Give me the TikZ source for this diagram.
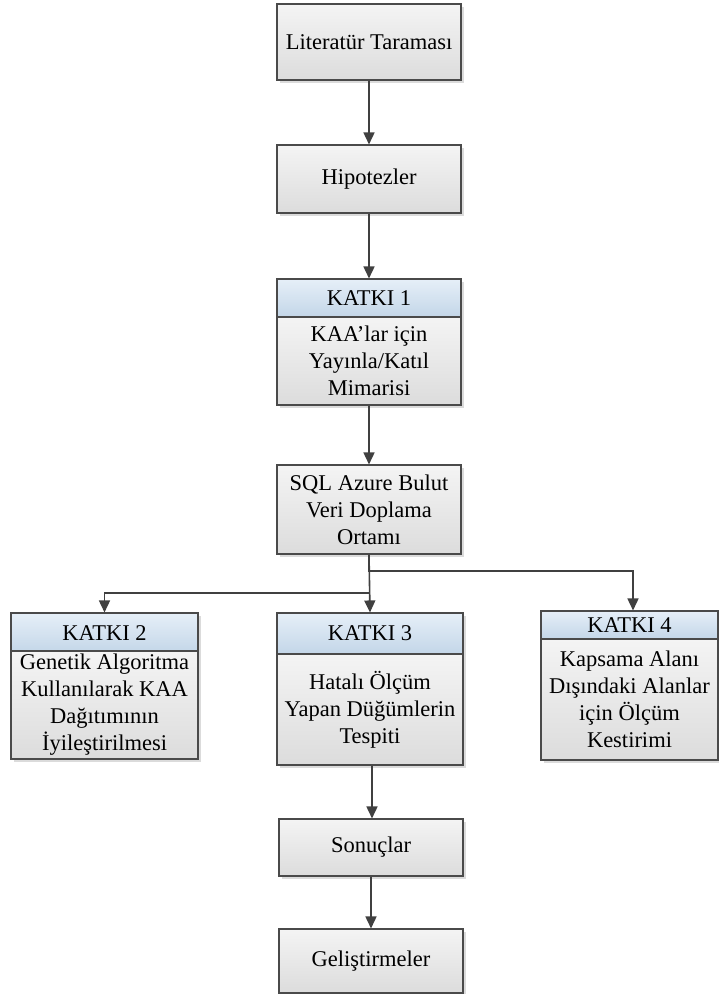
\documentclass[tikz,border=0pt]{standalone}
\usepackage{fontspec}
\setmainfont{Liberation Serif}
\usetikzlibrary{arrows.meta,shadows}
\definecolor{edge}{HTML}{4A4A4A}
\definecolor{wire}{HTML}{404040}
\definecolor{gtop}{HTML}{F4F4F4}
\definecolor{gbot}{HTML}{DCDCDC}
\definecolor{btop}{HTML}{E6EFF8}
\definecolor{bbot}{HTML}{C3D6E8}
\tikzset{
  shade/.style={drop shadow={shadow xshift=3pt,shadow yshift=-3pt,fill=black!14,opacity=1}},
  grey box/.style={shade,draw=edge,line width=1.1pt,top color=gtop,bottom color=gbot,
    inner sep=0pt,align=center,font=\fontsize{22.5}{27}\selectfont},
  head box/.style={shade,draw=edge,line width=1.1pt,top color=btop,bottom color=bbot,
    inner sep=0pt,align=center,font=\fontsize{22.5}{27}\selectfont},
  arr/.style={draw=wire,line width=1.6pt,-{Triangle[width=11pt,length=12pt]}},
}
% a centred block of lines, lowered by #1
\newcommand{\lowlines}[2]{\raisebox{-#1}{\begin{tabular}{@{}c@{}}#2\end{tabular}}}
\begin{document}
\begin{tikzpicture}[x=1pt,y=-1pt]
\useasboundingbox (0,0) rectangle (719,994);
% main column
\node[grey box,minimum width=184pt,minimum height=76pt] (lit) at (369,42) {Literatür Taraması};
\node[grey box,minimum width=184pt,minimum height=68pt] (hip) at (369,179) {Hipotezler};
\node[head box,minimum width=184pt,minimum height=38pt] (k1h) at (369,298) {KATKI 1};
\node[grey box,minimum width=184pt,minimum height=88pt] (k1b) at (369,361) {KAA’lar için\\Yayınla/Katıl\\Mimarisi};
\node[grey box,minimum width=184pt,minimum height=89pt] (sql) at (369,509.5) {SQL Azure Bulut\\Veri Doplama\\Ortamı};
% contribution boxes
\node[head box,minimum width=187pt,minimum height=40pt] (k2h) at (104.5,633) {KATKI 2};
\node[grey box,minimum width=187pt,minimum height=104pt] (k2b) at (104.5,705)
  {\lowlines{5pt}{Genetik Algoritma\\Kullanılarak KAA\\Dağıtımının\\İyileştirilmesi}};
\node[head box,minimum width=186pt,minimum height=41pt] (k3h) at (370,633.5) {KATKI 3};
\node[grey box,minimum width=186pt,minimum height=111pt] (k3b) at (370,709.5) {Hatalı Ölçüm\\Yapan Düğümlerin\\Tespiti};
\node[head box,minimum width=177pt,minimum height=28pt] (k4h) at (629.5,625) {\raisebox{-4pt}{KATKI 4}};
\node[grey box,minimum width=177pt,minimum height=121pt] (k4b) at (629.5,699.5) {Kapsama Alanı\\Dışındaki Alanlar\\için Ölçüm\\Kestirimi};
% closing steps
\node[grey box,minimum width=184pt,minimum height=57pt] (son) at (371,847.5) {Sonuçlar};
\node[grey box,minimum width=184pt,minimum height=64pt] (gel) at (371,961) {Geliştirmeler};
% connectors
\draw[arr] (lit.south) -- (hip.north);
\draw[arr] (hip.south) -- (k1h.north);
\draw[arr] (k1b.south) -- (sql.north);
\coordinate (j1) at (369,571);
\coordinate (j2) at (369,593);
\draw[arr] (sql.south) -- (j1) -| ([xshift=3.5pt]k4h.north);
\draw[arr] (sql.south) -- (k3h.north);
\draw[arr] (j2) -| (k2h.north);
\draw[arr] ([xshift=2pt]k3b.south) -- ([xshift=1pt]son.north);
\draw[arr] (son.south) -- (gel.north);
\end{tikzpicture}
\end{document}
